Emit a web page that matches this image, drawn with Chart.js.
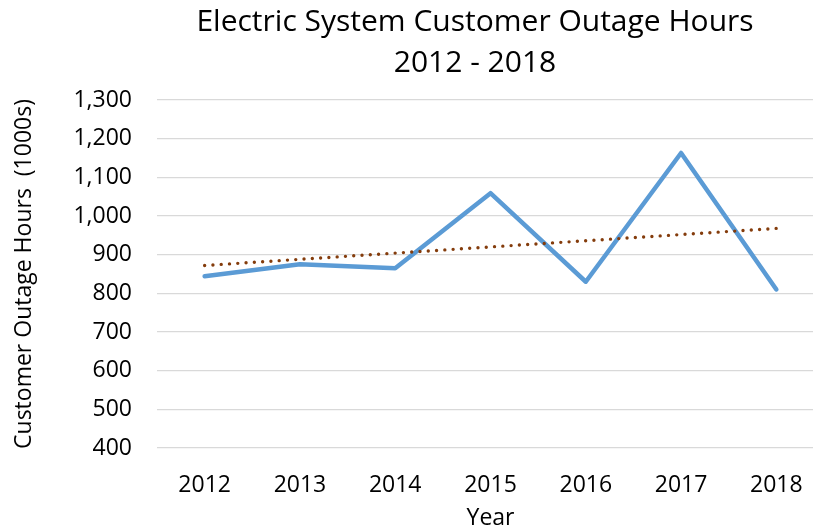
<!DOCTYPE html>
<html>
<head>
<meta charset="utf-8">
<script src="https://cdn.jsdelivr.net/npm/chart.js@4"></script>
<style>
  html, body { margin: 0; padding: 0; background: #fff; overflow: hidden; }
  #wrap { width: 824px; height: 531px; }
</style>
</head>
<body>
<div id="wrap"><canvas id="outageChart" width="824" height="531"></canvas></div>
<script>
// Data
const years = ["2012", "2013", "2014", "2015", "2016", "2017", "2018"];
const outageHours = [844, 875, 865, 1059, 830, 1163, 810];
// Trendline ends (linear)
const trendLine = [872, null, null, null, null, null, 968];
const titleLines = ["Electric System Customer Outage Hours", "2012 - 2018"];

const FONT = "'Open Sans', sans-serif";

// Judul digambar manual supaya posisinya bisa diatur
const titlePlugin = {
    id: "chartTitle",
    afterDraw(chart) {
        const ctx = chart.ctx;
        ctx.save();
        ctx.fillStyle = "#000";
        ctx.font = "30px " + FONT;
        ctx.textAlign = "center";
        ctx.textBaseline = "alphabetic";
        ctx.fillText(titleLines[0], 475, 31);
        ctx.fillText(titleLines[1], 475, 72);
        ctx.restore();
    }
};

const ctx = document.getElementById("outageChart").getContext("2d");
new Chart(ctx, {
    type: "line",
    data: {
        labels: years,
        datasets: [
            {
                label: "Customer Outage Hours",
                data: outageHours,
                borderColor: "#5B9BD5",
                borderWidth: 4.5,
                borderCapStyle: "round",
                borderJoinStyle: "round",
                pointRadius: 0,
                tension: 0,
                order: 1,
            },
            {
                label: "Linear trend",
                data: trendLine,
                spanGaps: true,
                borderColor: "#843C0C",
                borderWidth: 3.4,
                borderDash: [0, 8.3],
                borderCapStyle: "round",
                pointRadius: 0,
                tension: 0,
                order: 0,
            },
        ],
    },
    options: {
        responsive: false,
        devicePixelRatio: 1,
        animation: false,
        layout: {
            padding: { top: 100, right: 0, bottom: 0, left: 0 },
        },
        plugins: {
            legend: { display: false },
            title: { display: false },
            tooltip: { enabled: false },
        },
        scales: {
            x: {
                offset: true,
                grid: { display: false },
                border: { display: false },
                ticks: {
                    color: "#000",
                    font: { family: FONT, size: 23 },
                    padding: 16,
                    maxRotation: 0,
                },
                title: {
                    display: true,
                    text: "Year",
                    color: "#000",
                    font: { family: FONT, size: 23, lineHeight: 1.1 },
                    padding: { top: 0, bottom: 0 },
                },
                afterFit(scale) {
                    scale.height = 83;
                },
            },
            y: {
                min: 400,
                max: 1300,
                ticks: {
                    stepSize: 100,
                    color: "#000",
                    font: { family: FONT, size: 23 },
                    padding: 25,
                },
                grid: {
                    color: "#D9D9D9",
                    lineWidth: 1.3,
                    drawTicks: false,
                },
                border: { display: false },
                title: {
                    display: true,
                    text: "Customer Outage Hours  (1000s)",
                    color: "#000",
                    font: { family: FONT, size: 23 },
                    padding: { top: 11, bottom: 0 },
                },
                afterFit(scale) {
                    scale.width = 157;
                },
            },
        },
    },
    plugins: [titlePlugin],
});
</script>
</body>
</html>
